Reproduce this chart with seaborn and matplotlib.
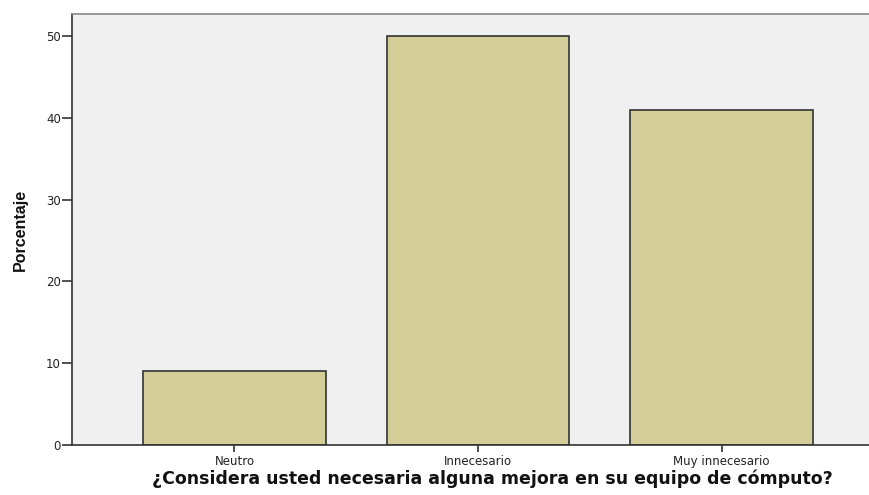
import matplotlib
matplotlib.use("Agg")
import matplotlib.pyplot as plt
import seaborn as sns
import pandas as pd

# data
categorias = ["Neutro", "Innecesario", "Muy innecesario"]
porcentajes = [9.0, 50.0, 41.0]
y_ticks = [0, 10, 20, 30, 40, 50]

df = pd.DataFrame({"categoria": categorias, "porcentaje": porcentajes})

sns.set_theme(style="white")
plt.rcParams["font.family"] = ["Liberation Sans", "DejaVu Sans"]

fig = plt.figure(figsize=(8.7, 4.95), dpi=100)
ax = fig.add_axes([72 / 870, 50 / 495, (884 - 72) / 870, (445 - 14) / 495])
ax.set_facecolor("#f0f0f0")

sns.barplot(data=df, x="categoria", y="porcentaje", order=categorias,
            color="#d3ce97", edgecolor="#333333", linewidth=1.2,
            width=0.75, saturation=1, ax=ax)

ax.set_xlim(-0.667, 2.667)
ax.set_ylim(0, 52.7)
ax.set_yticks(y_ticks)
ax.set_yticklabels([str(t) for t in y_ticks])

for side in ["left", "bottom"]:
    ax.spines[side].set_color("#333333")
    ax.spines[side].set_linewidth(1.2)
ax.spines["top"].set_color("#888888")
ax.spines["top"].set_linewidth(1.2)
ax.spines["right"].set_visible(False)

ax.tick_params(axis="both", which="both", direction="out", width=1.2,
               color="#333333", labelsize=8.5, labelcolor="#222222",
               left=True, bottom=True)
ax.tick_params(axis="x", length=5, pad=2)
ax.tick_params(axis="y", length=7, pad=1)
for lbl in ax.get_xticklabels() + ax.get_yticklabels():
    lbl.set_family(["DejaVu Sans"])

ax.set_xlabel("")
ax.set_ylabel("")

# axis titles placed in figure pixels as in the reference
fig.text(20 / 870, 1 - 230 / 495, "Porcentaje", rotation=90,
         ha="center", va="center", fontsize=11.5, fontweight="bold",
         color="#111111")
fig.text(492 / 870, 1 - 479 / 495,
         "¿Considera usted necesaria alguna mejora en su equipo de cómputo?",
         ha="center", va="center", fontsize=12.5, fontweight="bold",
         family=["DejaVu Sans"], color="#111111")

fig.savefig("out.png", dpi=100, facecolor="white")
